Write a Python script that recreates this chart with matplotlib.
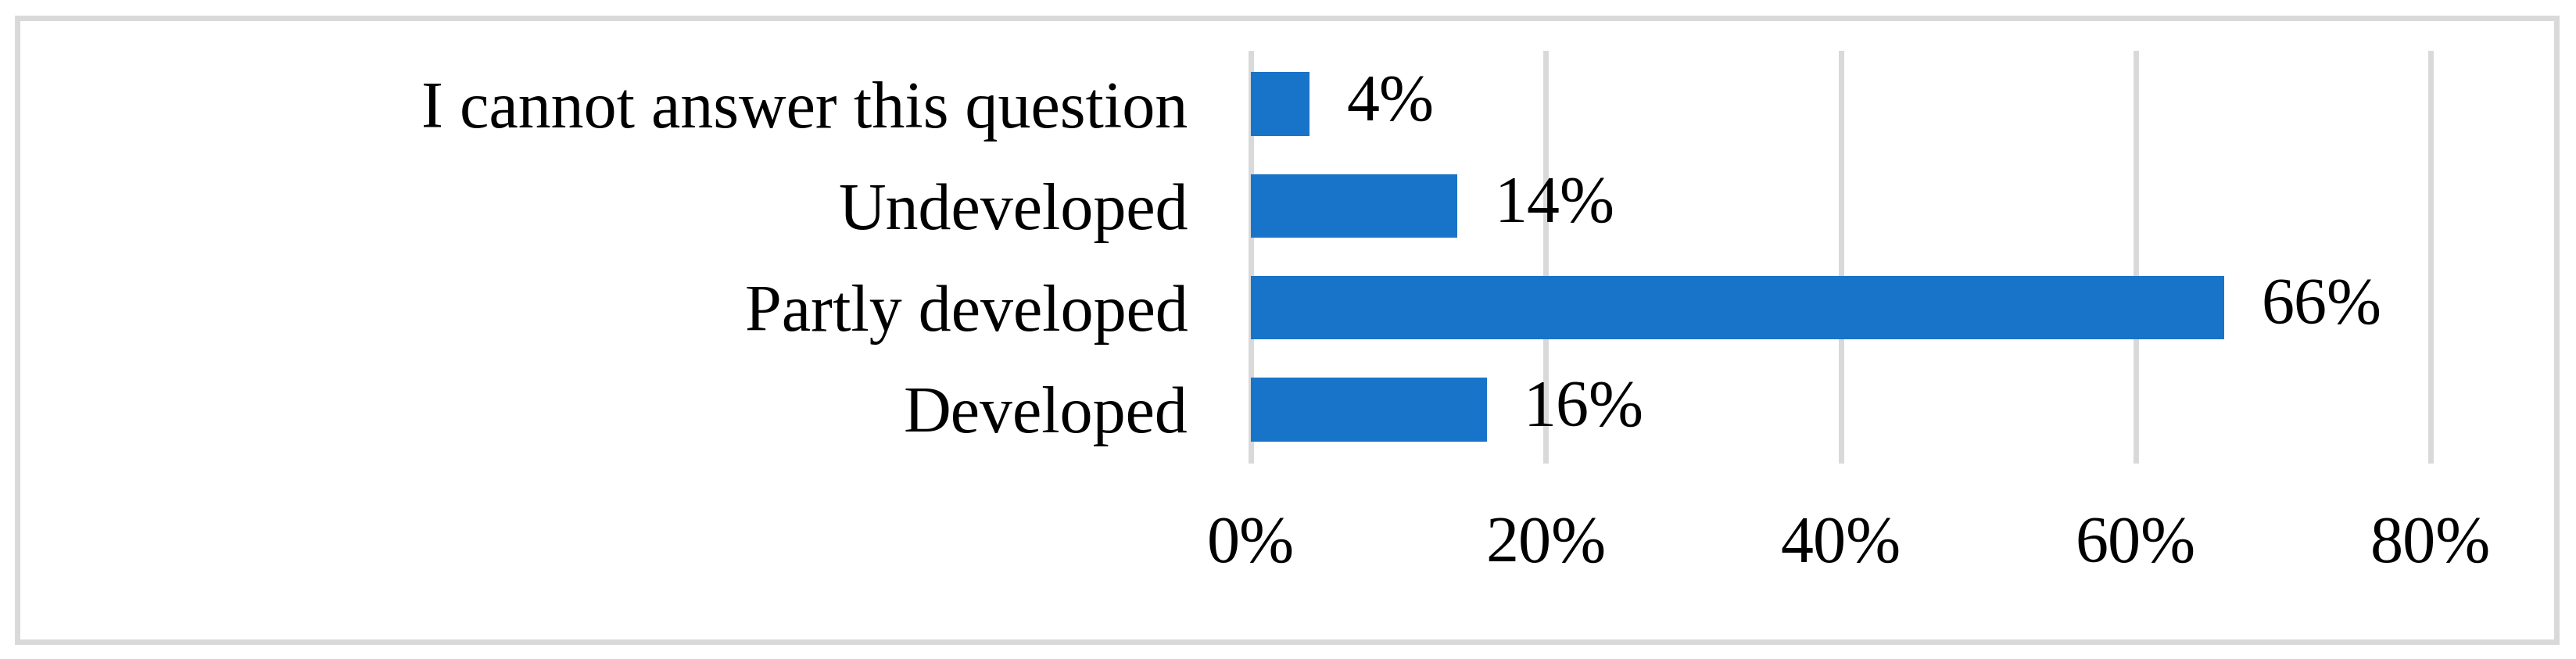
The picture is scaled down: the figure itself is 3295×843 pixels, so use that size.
import matplotlib
matplotlib.use("Agg")
import matplotlib.pyplot as plt
from matplotlib.patches import Rectangle

categories = ["Developed", "Partly developed", "Undeveloped", "I cannot answer this question"]
values = [0.16, 0.66, 0.14, 0.04]
value_labels = ["16%", "66%", "14%", "4%"]
xticks = [0.0, 0.2, 0.4, 0.6, 0.8]
xtick_labels = ["0%", "20%", "40%", "60%", "80%"]

BAR = "#1874C8"
GRID = "#D9D9D9"
FS = 60.5

plt.rcParams["font.family"] = ["Liberation Serif", "DejaVu Serif"]

W, H, DPI = 3295, 843, 100
fig = plt.figure(figsize=(W / DPI, H / DPI), dpi=DPI)
fig.patch.set_facecolor("white")

# outer border
fig.patches.append(Rectangle((21.5 / W, 22.5 / H), (3270 - 21.5) / W, (820 - 22.5) / H,
                             transform=fig.transFigure, fill=False,
                             edgecolor=GRID, linewidth=5.0))

ax = fig.add_axes([1600 / W, (H - 589) / H, 1509 / W, (589 - 68) / H])
ypos = list(range(len(categories)))
bars = ax.barh(ypos, values, height=0.625, color=BAR, zorder=3)
ax.set_xlim(0, 0.8)
ax.set_ylim(-0.5, len(categories) - 0.5)

for xv in xticks:
    ax.axvline(xv, color=GRID, linewidth=5.0, zorder=1, clip_on=False)

ax.set_xticks(xticks)
ax.set_xticklabels(xtick_labels, fontsize=FS)
ax.set_yticks(ypos)
ax.set_yticklabels(categories, fontsize=FS)
ax.tick_params(axis="x", length=0, pad=51)
ax.tick_params(axis="y", length=0, pad=58)
for s in ax.spines.values():
    s.set_visible(False)
ax.set_facecolor("none")

ax.bar_label(bars, labels=value_labels, padding=34, fontsize=FS)

fig.savefig("out.png", dpi=DPI, facecolor="white")
